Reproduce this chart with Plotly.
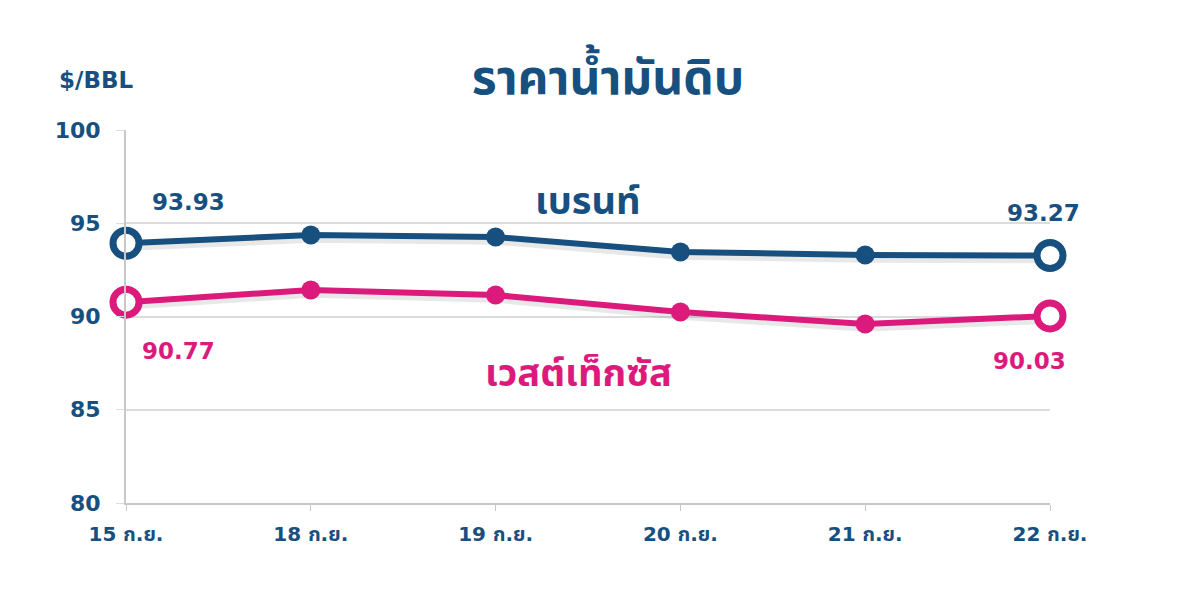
import plotly.graph_objects as go

dates = ["15 ก.ย.", "18 ก.ย.", "19 ก.ย.", "20 ก.ย.", "21 ก.ย.", "22 ก.ย."]
brent = [93.93, 94.37, 94.26, 93.46, 93.30, 93.27]
wti = [90.77, 91.42, 91.15, 90.24, 89.60, 90.03]
y_ticks = [80, 85, 90, 95, 100]

navy = "#17507f"
pink = "#dc1a7c"
font = "DejaVu Sans, Noto Sans Thai, sans-serif"

x = list(range(len(dates)))
last = len(dates) - 1


def marker_style(color):
    sizes = [26 if i in (0, last) else 19 for i in x]
    fills = ["white" if i in (0, last) else color for i in x]
    widths = [7 if i in (0, last) else 0 for i in x]
    return dict(size=sizes, color=fills, opacity=1, line=dict(color=color, width=widths))


fig = go.Figure()
for vals, color in [(brent, navy), (wti, pink)]:
    # soft drop shadow under each line
    fig.add_trace(go.Scatter(x=x, y=[v - 0.2 for v in vals], mode="lines",
                             line=dict(color="rgba(0,0,0,0.09)", width=8),
                             hoverinfo="skip", showlegend=False, cliponaxis=False))
    fig.add_trace(go.Scatter(x=x, y=vals, mode="lines+markers",
                             line=dict(color=color, width=6),
                             marker=marker_style(color), opacity=1,
                             showlegend=False, cliponaxis=False))


def value_label(xi, yi, color, dx, dy):
    fig.add_annotation(x=xi, y=yi, text=f"<b>{yi:.2f}</b>", showarrow=False,
                       xanchor="center", yanchor="middle", xshift=dx, yshift=dy,
                       font=dict(family=font, size=23, color=color))


value_label(0, brent[0], navy, 62, 41)
value_label(last, brent[-1], navy, -7, 43)
value_label(0, wti[0], pink, 52, -49)
value_label(last, wti[-1], pink, -21, -45)

fig.add_annotation(x=2.5, y=96.2, text="<b>เบรนท์</b>", showarrow=False,
                   font=dict(family=font, size=38, color=navy))
fig.add_annotation(x=2.45, y=86.97, text="<b>เวสต์เท็กซัส</b>", showarrow=False,
                   font=dict(family=font, size=38, color=pink))

fig.add_annotation(xref="paper", yref="paper", x=-0.032, y=1.134, text="<b>$/BBL</b>",
                   showarrow=False, xanchor="center", yanchor="middle",
                   font=dict(family=font, size=23, color=navy))

fig.update_layout(
    width=1200, height=600,
    paper_bgcolor="white", plot_bgcolor="white",
    margin=dict(l=118, r=158, t=122, b=105),
    title=dict(text="<b>ราคาน้ำมันดิบ</b>", x=0.5, xanchor="center", y=0.885, yanchor="middle",
               font=dict(family=font, size=48, color=navy)),
    xaxis=dict(range=[0, last], tickvals=x, ticktext=[f"<b>{d}</b>" for d in dates],
               showgrid=False, zeroline=False, showline=True, linecolor="#c8c8c8", linewidth=2,
               ticks="outside", ticklen=6, tickcolor="#c8c8c8", ticklabelstandoff=6,
               tickfont=dict(family=font, size=20, color=navy), fixedrange=True),
    yaxis=dict(range=[80, 100], tickvals=y_ticks, ticktext=[f"<b>{t}</b>" for t in y_ticks],
               showgrid=True, gridcolor="#dcdcdc", gridwidth=1.5,
               zeroline=False, showline=True, linecolor="#c8c8c8", linewidth=2,
               ticks="outside", ticklen=8, tickcolor="#dcdcdc", ticklabelstandoff=11,
               tickfont=dict(family=font, size=22, color=navy), fixedrange=True),
)

fig.write_html("out.html")
